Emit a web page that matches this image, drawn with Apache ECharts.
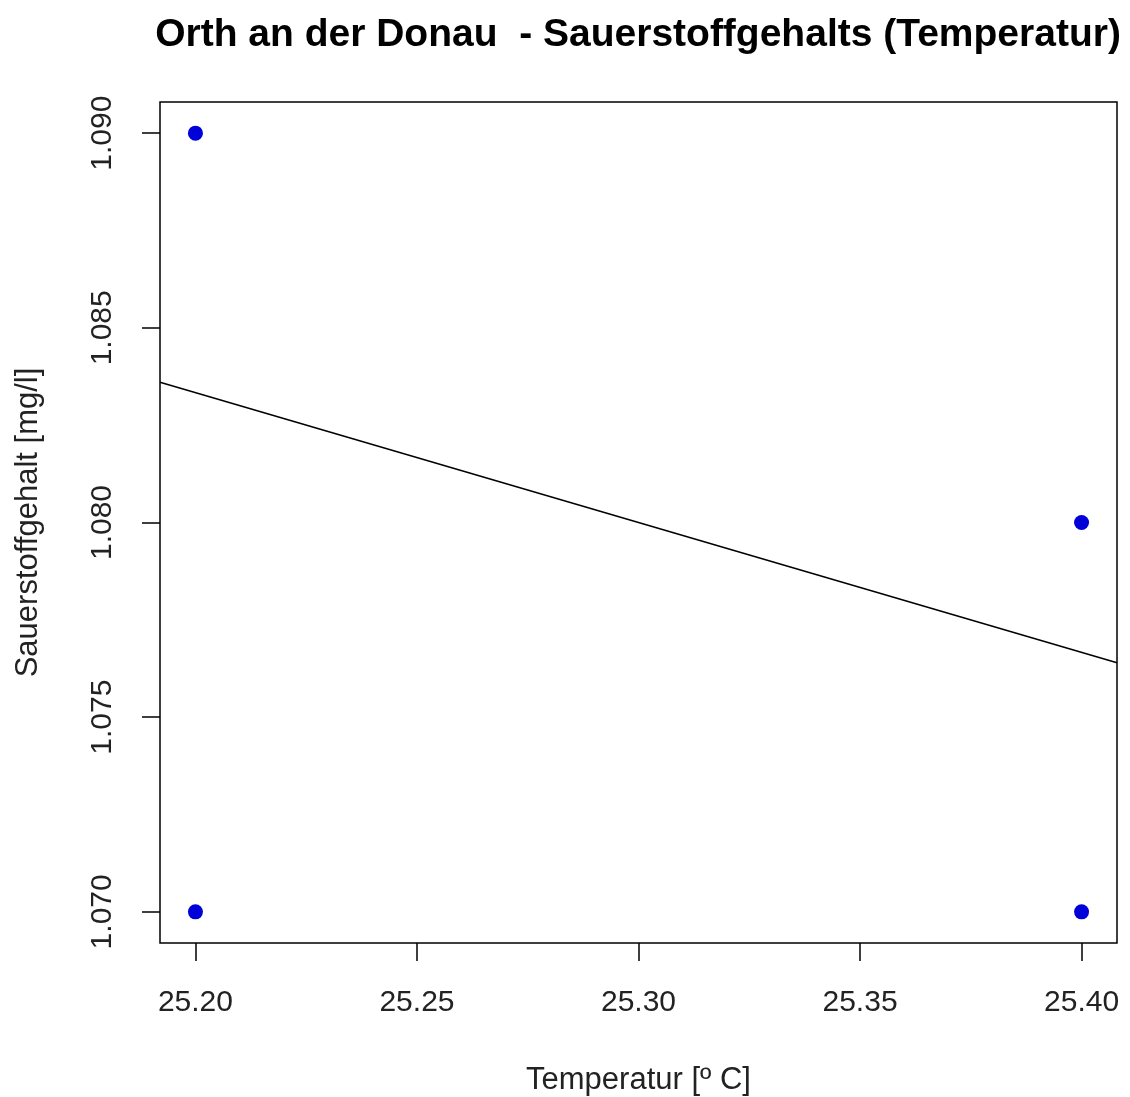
<!DOCTYPE html>
<html>
<head>
<meta charset="utf-8">
<title>Orth an der Donau - Sauerstoffgehalts (Temperatur)</title>
<script src="https://cdn.jsdelivr.net/npm/echarts@6/dist/echarts.min.js"></script>
<style>
    html, body {
        margin: 0;
        padding: 0;
        background: #FFFFFF;
    }
    #chart {
        width: 1130px;
        height: 1097px;
    }
</style>
</head>
<body>
<div id="chart"></div>
<script>
    // Messwerte: Temperatur gegen Sauerstoffgehalt
    var tempValues = [25.20, 25.20, 25.40, 25.40];
    var oxygenValues = [1.090, 1.070, 1.080, 1.070];

    var trendX = [25.192, 25.408];
    var trendY = [1.0836, 1.0764];

    // Achsenbereich und Beschriftungen
    var xRange = [25.192, 25.408];
    var yRange = [1.0692, 1.0908];
    var xTicks = [25.20, 25.25, 25.30, 25.35, 25.40];
    var yTicks = [1.070, 1.075, 1.080, 1.085, 1.090];

    var fontFamily = '"Liberation Sans", Arial, sans-serif';

    var pointData = [];
    var i;
    for (i = 0; i < tempValues.length; i++) {
        pointData.push([tempValues[i], oxygenValues[i]]);
    }
    var trendData = [];
    for (i = 0; i < trendX.length; i++) {
        trendData.push([trendX[i], trendY[i]]);
    }

    var chart = echarts.init(document.getElementById('chart'));

    chart.setOption({
        backgroundColor: '#FFFFFF',
        animation: false,
        title: {
            text: 'Orth an der Donau  - Sauerstoffgehalts (Temperatur)',
            left: 633,
            top: 11,
            textAlign: 'center',
            textStyle: {
                fontFamily: fontFamily,
                fontWeight: 'bold',
                fontSize: 39,
                color: '#000'
            }
        },
        grid: {
            left: 160,
            right: 13,
            top: 102,
            bottom: 154,
            outerBoundsMode: 'none',
            containLabel: false,
            show: true,
            borderColor: '#000',
            borderWidth: 1.5,
            backgroundColor: 'transparent'
        },
        xAxis: {
            type: 'value',
            min: xRange[0],
            max: xRange[1],
            name: 'Temperatur [º C]',
            nameLocation: 'middle',
            nameGap: 122,
            nameTextStyle: {
                fontFamily: fontFamily,
                fontSize: 31,
                color: '#222'
            },
            axisLine: { show: false },
            splitLine: { show: false },
            axisTick: {
                show: true,
                length: 18,
                customValues: xTicks,
                lineStyle: { color: '#000', width: 1.5 }
            },
            axisLabel: {
                customValues: xTicks,
                margin: 45,
                fontFamily: fontFamily,
                fontSize: 30,
                color: '#222',
                formatter: function (v) {
                    return v.toFixed(2);
                }
            }
        },
        yAxis: {
            type: 'value',
            min: yRange[0],
            max: yRange[1],
            name: 'Sauerstoffgehalt [mg/l]',
            nameLocation: 'middle',
            nameGap: 116,
            nameRotate: 90,
            nameTextStyle: {
                fontFamily: fontFamily,
                fontSize: 31,
                color: '#222'
            },
            axisLine: { show: false },
            splitLine: { show: false },
            axisTick: {
                show: true,
                length: 18,
                customValues: yTicks,
                lineStyle: { color: '#000', width: 1.5 }
            },
            axisLabel: {
                customValues: yTicks,
                rotate: 90,
                margin: 42,
                fontFamily: fontFamily,
                fontSize: 30,
                color: '#222',
                formatter: function (v) {
                    return v.toFixed(3);
                }
            }
        },
        series: [
            {
                name: 'Trend',
                type: 'line',
                data: trendData,
                symbol: 'none',
                silent: true,
                lineStyle: { color: '#000', width: 1.5 }
            },
            {
                name: 'Messwerte',
                type: 'scatter',
                data: pointData,
                symbol: 'circle',
                symbolSize: 15,
                itemStyle: { color: '#0000d8', opacity: 1 }
            }
        ]
    });
</script>
</body>
</html>
